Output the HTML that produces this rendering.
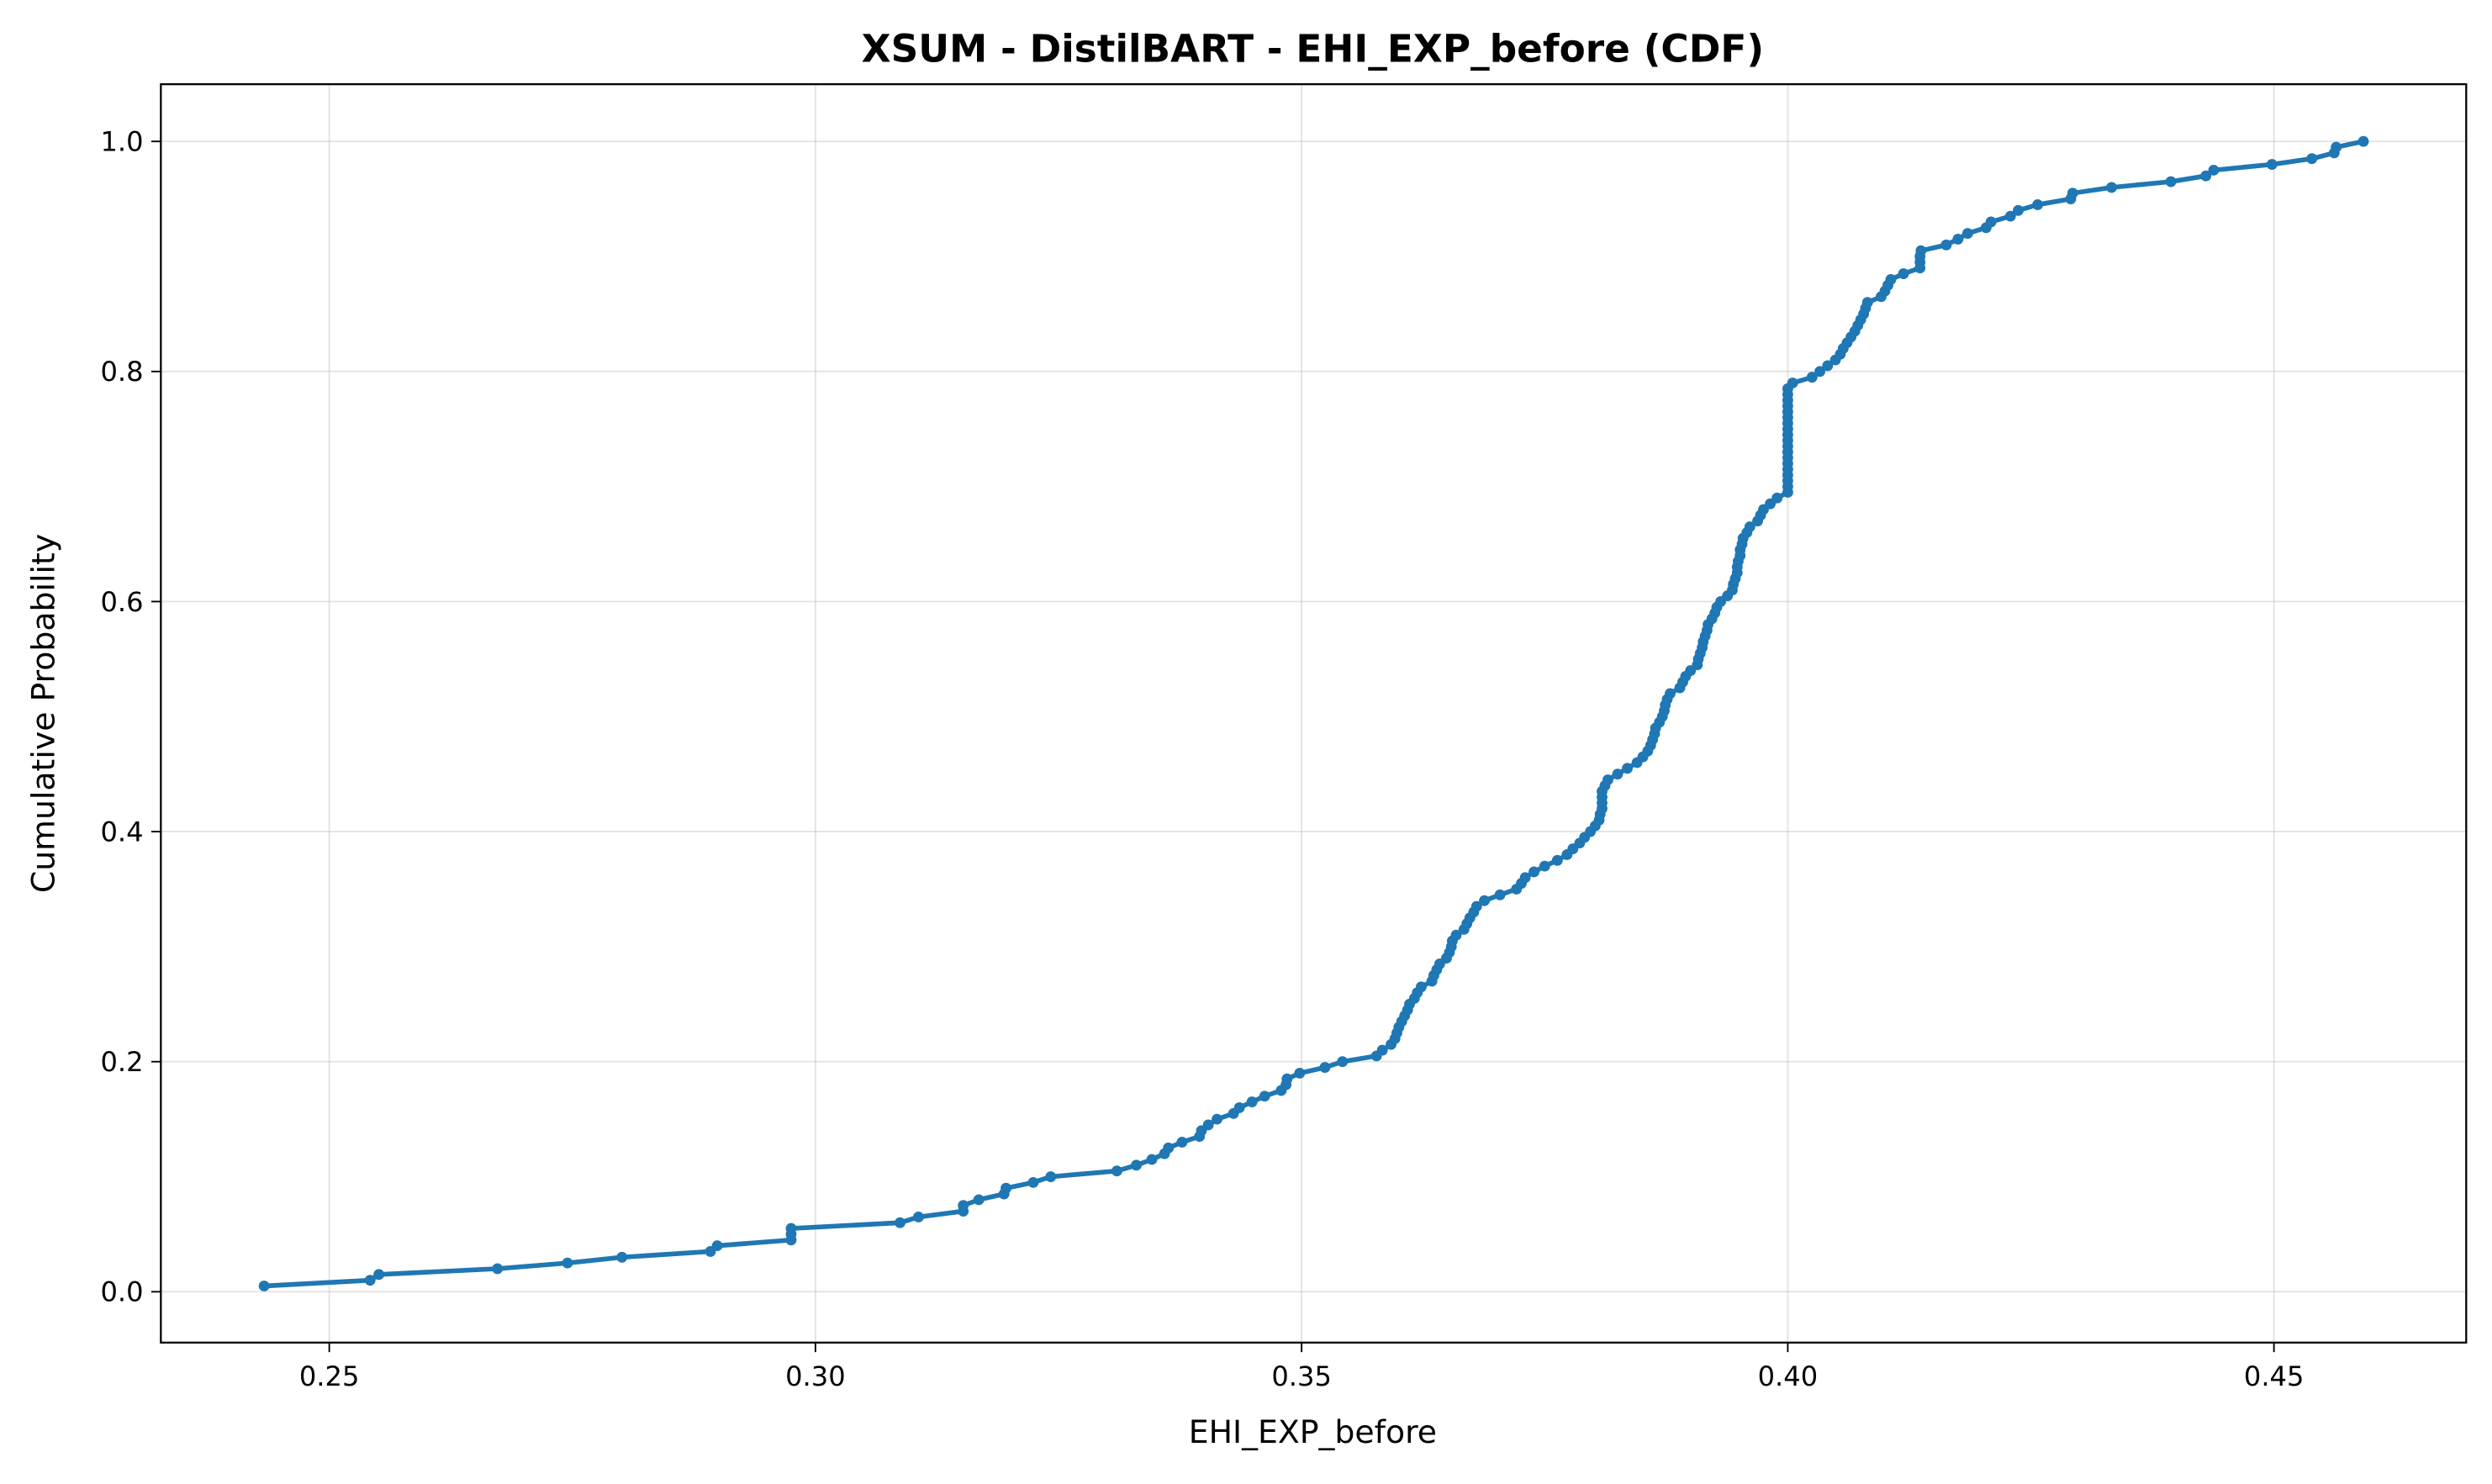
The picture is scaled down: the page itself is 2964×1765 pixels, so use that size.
<!DOCTYPE html>
<html><head><meta charset="utf-8"><style>
html,body{margin:0;padding:0;background:#fff;}
svg{display:block;}
text{font-family:"DejaVu Sans","Liberation Sans",sans-serif;}
</style></head><body>
<svg id="chart" width="2964" height="1765" viewBox="0 0 1568 934" xmlns="http://www.w3.org/2000/svg">
<rect width="1568" height="934" fill="#fff"/>
<text x="826" y="39" text-anchor="middle" font-size="24" font-weight="bold">XSUM - DistilBART - EHI_EXP_before (CDF)</text>
<g id="grid"></g>
<g id="series"></g>
<rect x="101" y="53" width="1451" height="792" fill="none" stroke="#000" stroke-width="1.2"/>
<g id="xticks"></g>
<g id="yticks"></g>
<text x="826" y="908" text-anchor="middle" font-size="20">EHI_EXP_before</text>
<text transform="translate(34,449) rotate(-90)" text-anchor="middle" font-size="20">Cumulative Probability</text>
</svg>
<script>
const xTickValues = [0.25, 0.30, 0.35, 0.40, 0.45];
const xTickLabels = ["0.25", "0.30", "0.35", "0.40", "0.45"];
const yTickValues = [0.0, 0.2, 0.4, 0.6, 0.8, 1.0];
const yTickLabels = ["0.0", "0.2", "0.4", "0.6", "0.8", "1.0"];
const ehiValues = [
0.2433,0.2542,0.2551,0.2673,0.2745,0.2801,0.2892,0.2899,0.2975,0.2975,0.2975,
0.3087,0.3106,0.3152,0.3152,0.3168,0.3194,0.3196,0.3224,0.3242,0.3310,0.3330,
0.3346,0.3359,0.3363,0.3377,0.3395,0.3397,0.3404,0.3413,0.3430,0.3436,0.3449,
0.3462,0.3479,0.3484,0.3485,0.3498,0.3524,0.3542,0.3577,0.3583,0.3592,0.3596,
0.3598,0.3600,0.3603,0.3606,0.3609,0.3611,0.3616,0.3619,0.3623,0.3634,0.3636,
0.3639,0.3642,0.3649,0.3652,0.3654,0.3655,0.3659,0.3667,0.3670,0.3673,0.3677,
0.3680,0.3688,0.3704,0.3721,0.3726,0.3730,0.3739,0.3750,0.3763,0.3773,0.3779,
0.3786,0.3791,0.3797,0.3802,0.3806,0.3807,0.3809,0.3809,0.3809,0.3809,0.3812,
0.3815,0.3825,0.3835,0.3845,0.3851,0.3856,0.3859,0.3861,0.3863,0.3864,0.3868,
0.3871,0.3873,0.3874,0.3876,0.3879,0.3889,0.3892,0.3895,0.3900,0.3907,0.3908,
0.3910,0.3912,0.3913,0.3915,0.3917,0.3918,0.3922,0.3925,0.3927,0.3931,0.3938,
0.3943,0.3944,0.3946,0.3948,0.3948,0.3949,0.3951,0.3951,0.3953,0.3954,0.3958,
0.3961,0.3969,0.3972,0.3975,0.3982,0.3989,
0.4000,0.4000,0.4000,0.4000,0.4000,0.4000,0.4000,0.4000,0.4000,0.4000,
0.4000,0.4000,0.4000,0.4000,0.4000,0.4000,0.4000,0.4000,0.4000,
0.4005,0.4025,0.4033,0.4041,0.4049,0.4054,0.4057,0.4061,0.4065,0.4069,0.4072,
0.4075,0.4078,0.4080,0.4082,0.4096,0.4100,0.4103,0.4106,0.4119,0.4136,0.4136,
0.4136,0.4137,0.4163,0.4175,0.4185,0.4204,0.4209,0.4229,0.4237,0.4257,0.4291,
0.4293,0.4333,0.4394,0.4430,0.4438,0.4498,0.4539,0.4562,0.4564,0.4592
];
const NS = "http://www.w3.org/2000/svg";
function xScale(v){ return 207 + (v - 0.25) * 6120; }
function yScale(v){ return 813 - v * 724; }
function mk(tag, attrs){ const e = document.createElementNS(NS, tag); for (const k in attrs) e.setAttribute(k, attrs[k]); return e; }
const grid = document.getElementById('grid');
const xt = document.getElementById('xticks');
const yt = document.getElementById('yticks');
xTickValues.forEach((v, i) => {
  const x = xScale(v);
  const gl = mk('line', {x1:x, x2:x, y1:53, y2:845, stroke:'#b0b0b0', 'stroke-opacity':0.35, 'stroke-width':1});
  
  
  grid.appendChild(gl);
  const tk = mk('line', {x1:x, x2:x, y1:845, y2:851, stroke:'#000', 'stroke-width':1});
  
  
  xt.appendChild(tk);
  const t = mk('text', {x:x, y:872, 'text-anchor':'middle', 'font-size':17});
  t.textContent = xTickLabels[i];
  
  
  xt.appendChild(t);
});
yTickValues.forEach((v, i) => {
  const y = yScale(v);
  const gl = mk('line', {x1:101, x2:1552, y1:y, y2:y, stroke:'#b0b0b0', 'stroke-opacity':0.35, 'stroke-width':1});
  
  
  grid.appendChild(gl);
  const tk = mk('line', {x1:95, x2:101, y1:y, y2:y, stroke:'#000', 'stroke-width':1});
  
  
  yt.appendChild(tk);
  const t = mk('text', {x:90, y:y + 6, 'text-anchor':'end', 'font-size':17});
  t.textContent = yTickLabels[i];
  
  
  yt.appendChild(t);
});
const series = document.getElementById('series');
const n = ehiValues.length;
const pts = ehiValues.map((v, i) => [xScale(v), yScale((i + 1) / n)]);
const line = mk('polyline', {points: pts.map(p => p[0].toFixed(2) + ',' + p[1].toFixed(2)).join(' '), fill:'none', stroke:'#1f77b4', 'stroke-width':3, 'stroke-linejoin':'round'});


series.appendChild(line);
pts.forEach(p => {
  const c = mk('circle', {cx:p[0], cy:p[1], r:3.4, fill:'#1f77b4'});
  
  
  series.appendChild(c);
});
</script>
</body></html>
